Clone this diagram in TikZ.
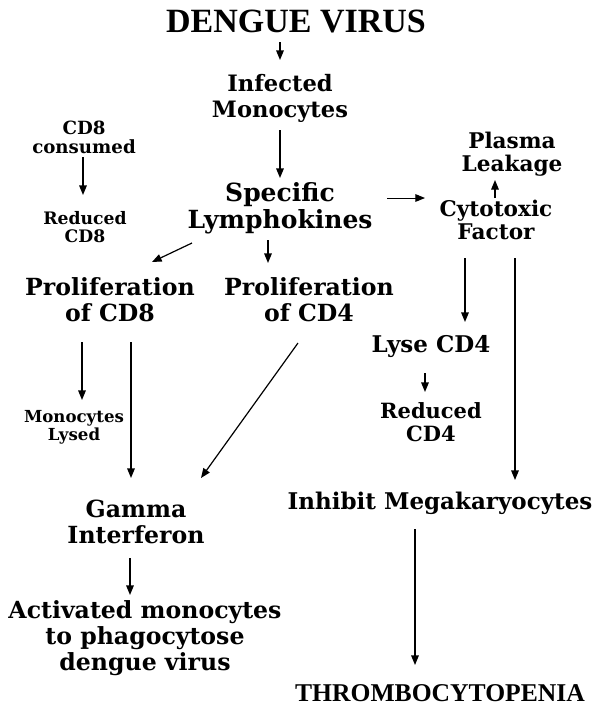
\documentclass[tikz,border=0pt]{standalone}
\usepackage{fontspec}
\setmainfont{DejaVu Serif}
\newfontfamily\capsfont{Liberation Serif}
\usetikzlibrary{arrows.meta}

\begin{document}
\begin{tikzpicture}[x=0.5pt,y=-0.5pt,
    big/.style={align=center,inner sep=0pt,font=\fontsize{11.8}{13}\selectfont\bfseries},
    mid/.style={align=center,inner sep=0pt,font=\fontsize{10.8}{11.5}\selectfont\bfseries},
    small/.style={align=center,inner sep=0pt,font=\fontsize{8.6}{9.2}\selectfont\bfseries},
    caps/.style={inner sep=0pt,font=\capsfont\fontsize{17}{17}\selectfont\bfseries},
    arr/.style={-{Triangle[length=4.8pt,width=3.8pt]},line width=0.6pt}]
    \useasboundingbox (0,0) rectangle (606,707);

    % top
    \node[caps] (virus) at (296,21) {DENGUE VIRUS};
    \node[big,font=\fontsize{11.3}{13}\selectfont\bfseries] (infected) at (280,98) {Infected\\Monocytes};
    \node[big,font=\fontsize{12.5}{13.5}\selectfont\bfseries] (specific) at (280,208) {Specific\\Lymphokines};
    \node[small,font=\fontsize{9.1}{9.4}\selectfont\bfseries] (cd8cons) at (84,137) {CD8\\consumed};
    \node[small] (redcd8) at (85,227) {Reduced\\CD8};
    \node[mid] (plasma) at (512,154) {Plasma\\Leakage};
    \node[mid] (cytotoxic) at (496,220) {Cytotoxic\\Factor};

    % middle
    \node[big] (prolcd8) at (110,300) {Proliferation\\of CD8};
    \node[big] (prolcd4) at (309,300) {Proliferation\\of CD4};
    \node[mid,font=\fontsize{11.5}{12}\selectfont\bfseries] (lysecd4) at (431,347) {Lyse CD4};
    \node[mid,font=\fontsize{10.5}{11.5}\selectfont\bfseries] (redcd4) at (431,422) {Reduced\\CD4};
    \node[small,font=\fontsize{8.3}{9.2}\selectfont\bfseries] (monolysed) at (74,427) {Monocytes\\Lysed};

    % bottom
    \node[big] (gamma) at (136,522) {Gamma\\Interferon};
    \node[mid,font=\fontsize{11.5}{12}\selectfont\bfseries] (inhibit) at (440,503) {Inhibit Megakaryocytes};
    \node[big] (activated) at (145,638) {Activated monocytes\\to phagocytose\\dengue virus};
    \node[caps,font=\capsfont\fontsize{12.8}{13}\selectfont\bfseries] (thrombo) at (440,693) {THROMBOCYTOPENIA};

    \draw[arr] ([shift={(-16,21)}]virus.center) -- ([shift={(0,-38)}]infected.center);
    \draw[arr] ([shift={(0,32)}]infected.center) -- ([shift={(0,-30)}]specific.center);
    \draw[arr] ([shift={(-1,20)}]cd8cons.center) -- ([shift={(-2,-32)}]redcd8.center);
    \draw[arr,line width=0.5pt] ([shift={(107,-10)}]specific.center) -- ([shift={(-71,-22)}]cytotoxic.center);
    \draw[arr] ([shift={(-1,-22)}]cytotoxic.center) -- ([shift={(-17,26)}]plasma.center);
    \draw[arr] ([shift={(-88,35)}]specific.center) -- ([shift={(42,-38)}]prolcd8.center);
    \draw[arr] ([shift={(-12,32)}]specific.center) -- ([shift={(-41,-37)}]prolcd4.center);
    \draw[arr] ([shift={(-31,38)}]cytotoxic.center) -- ([shift={(34,-25)}]lysecd4.center);
    \draw[arr] ([shift={(19,38)}]cytotoxic.center) -- ([shift={(75,-23)}]inhibit.center);
    \draw[arr] ([shift={(-6,26)}]lysecd4.center) -- ([shift={(-6,-30)}]redcd4.center);
    \draw[arr] ([shift={(-28,42)}]prolcd8.center) -- ([shift={(8,-27)}]monolysed.center);
    \draw[arr] ([shift={(21,42)}]prolcd8.center) -- ([shift={(-5,-44)}]gamma.center);
    \draw[arr] ([shift={(-11,43)}]prolcd4.center) -- ([shift={(65,-44)}]gamma.center);
    \draw[arr] ([shift={(-6,36)}]gamma.center) -- ([shift={(-15,-43)}]activated.center);
    \draw[arr] ([shift={(-25,26)}]inhibit.center) -- ([shift={(-25,-28)}]thrombo.center);
\end{tikzpicture}
\end{document}
